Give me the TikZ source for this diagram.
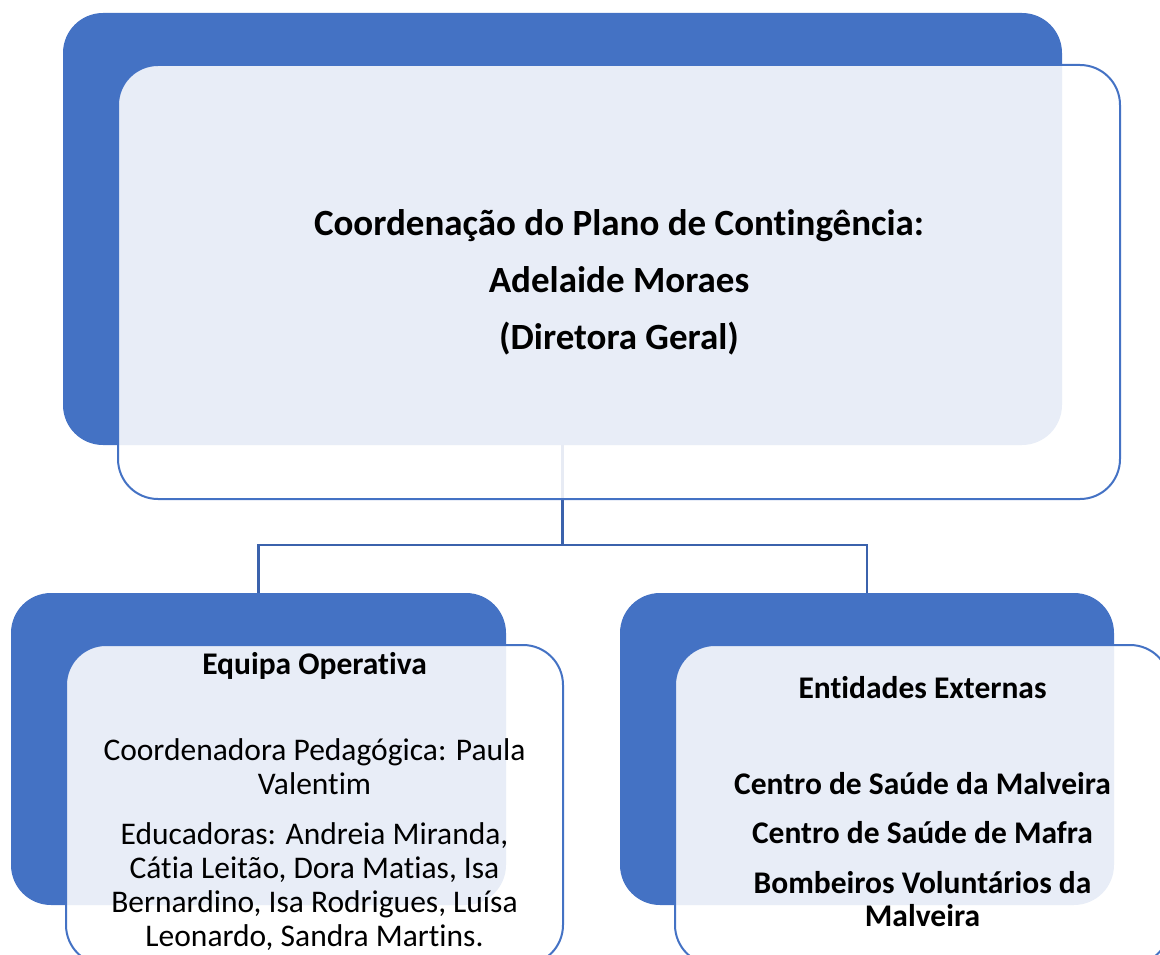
\documentclass[tikz,border=0pt]{standalone}
\usepackage{fontspec}
\setmainfont{Carlito}[Ligatures=NoCommon]
\usetikzlibrary{positioning}
\definecolor{boxblue}{HTML}{4472C4}
\definecolor{linkblue}{HTML}{3B62AC}

\begin{document}
\begin{tikzpicture}[x=1pt,y=-1pt,
      back/.style={fill=boxblue, rounded corners=40pt, inner sep=0pt, outer sep=0pt},
      front/.style={draw=boxblue, line width=2pt, fill=white, fill opacity=0.88,
        rounded corners=40pt, inner sep=0pt, outer sep=0pt},
      link/.style={draw=linkblue, line width=2.5pt},
      label/.style={align=center, inner sep=0pt}]
      \useasboundingbox (0,0) rectangle (1160,955);
      \clip (0,0) rectangle (1160,955);
      % top level
      \node[back, minimum width=999pt, minimum height=432pt] (top_back) at (562.5,229) {};
      \draw[link] (top_back.south) -- ++(0,100) coordinate (split);
      \node[front, minimum width=1002pt, minimum height=434pt] (top_front) at (619,282) {};
      \node[label, font=\bfseries\fontsize{37}{57}\selectfont] (top_text) at (top_front)
        {Coordenação do Plano de Contingência:\\Adelaide Moraes\\(Diretora Geral)};
      % second level
      \node[back, minimum width=495pt, minimum height=312pt] (left_back) at (258.5,749) {};
      \node[back, minimum width=494pt, minimum height=312pt] (right_back) at (867,749) {};
      \draw[link] (split) -| (left_back.north);
      \draw[link] (split) -| (right_back.north);
      \node[front, minimum width=497pt, minimum height=320pt] (left_front) at (314.5,805) {};
      \node[front, minimum width=495pt, minimum height=320pt] (right_front) at (922.5,805) {};
      \node[label, font=\bfseries\fontsize{31.5}{34}\selectfont] (left_title) at (314.5,666) {Equipa Operativa};
      \node[label, font=\fontsize{31.5}{34}\selectfont] (left_text) at (314.5,845)
        {Coordenadora Pedagógica: Paula\\Valentim\\[16pt]
         Educadoras: Andreia Miranda,\\Cátia Leitão, Dora Matias, Isa\\
         Bernardino, Isa Rodrigues, Luísa\\Leonardo, Sandra Martins.};
      \node[label, font=\bfseries\fontsize{31.5}{33}\selectfont] (right_title) at (922.5,688) {Entidades Externas};
      \node[label, font=\bfseries\fontsize{31.5}{33}\selectfont] (right_text) at (922.5,850)
        {Centro de Saúde da Malveira\\[16pt]Centro de Saúde de Mafra\\[17pt]
         Bombeiros Voluntários da\\Malveira};
    \end{tikzpicture}
\end{document}
